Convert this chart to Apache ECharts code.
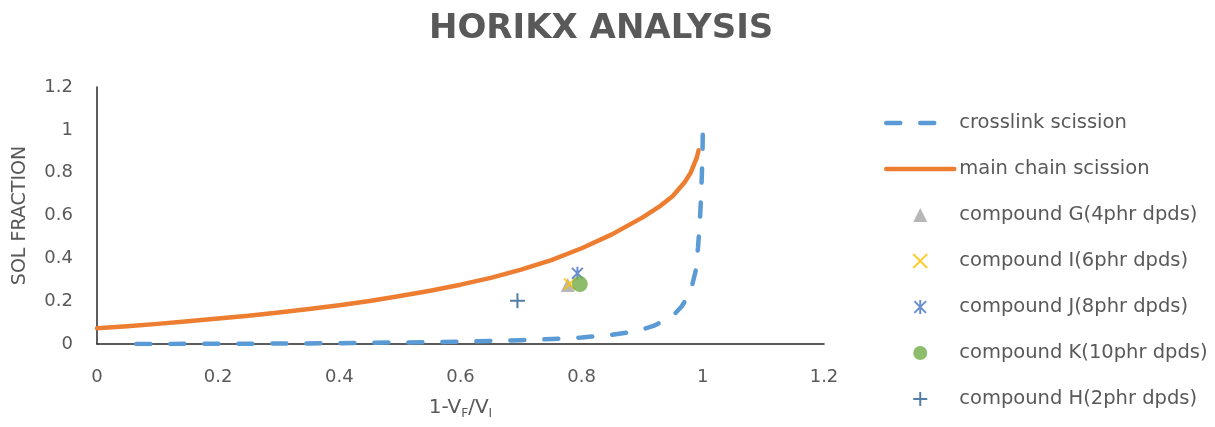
<!DOCTYPE html>
<html>
<head>
<meta charset="utf-8">
<title>Horikx Analysis</title>
<script src="https://cdn.jsdelivr.net/npm/echarts@6/dist/echarts.min.js"></script>
<style>
  html, body { margin: 0; padding: 0; background: #ffffff; }
  #chart { width: 1215px; height: 427px; }
</style>
</head>
<body>
<div id="chart"></div>
<script>
// Theoretical Horikx curves (x = 1 - Vf/Vi, y = sol fraction)
const crosslinkX = [0.065, 0.2, 0.3, 0.4, 0.5, 0.6, 0.7, 0.75, 0.8, 0.85, 0.88, 0.9, 0.92, 0.94, 0.955, 0.965, 0.975, 0.982, 0.988, 0.992, 0.995, 0.997, 0.9985, 0.9995, 1.0];
const crosslinkY = [0.0, 0.001, 0.002, 0.004, 0.007, 0.011, 0.018, 0.023, 0.03, 0.043, 0.055, 0.068, 0.086, 0.115, 0.145, 0.175, 0.22, 0.27, 0.34, 0.45, 0.57, 0.68, 0.8, 0.9, 1.0];

const mainChainX = [0, 0.05, 0.1, 0.15, 0.2, 0.25, 0.3, 0.35, 0.4, 0.45, 0.5, 0.55, 0.6, 0.65, 0.7, 0.75, 0.8, 0.85, 0.9, 0.93, 0.95, 0.97, 0.98, 0.99, 0.993];
const mainChainY = [0.073, 0.083, 0.094, 0.106, 0.119, 0.132, 0.147, 0.163, 0.181, 0.201, 0.224, 0.249, 0.277, 0.309, 0.347, 0.392, 0.447, 0.512, 0.59, 0.645, 0.69, 0.755, 0.8, 0.87, 0.905];

// Measured compounds [1 - Vf/Vi, sol fraction]
const compoundG = [[0.777, 0.276]];
const compoundI = [[0.78, 0.28]];
const compoundJ = [[0.793, 0.33]];
const compoundK = [[0.797, 0.28]];
const compoundH = [[0.694, 0.202]];

const seriesNames = [
  'crosslink scission',
  'main chain scission',
  'compound G(4phr dpds)',
  'compound I(6phr dpds)',
  'compound J(8phr dpds)',
  'compound K(10phr dpds)',
  'compound H(2phr dpds)'
];

const xTicks = { min: 0, max: 1.2, interval: 0.2 };
const yTicks = { min: 0, max: 1.2, interval: 0.2 };

const zip = (xs, ys) => xs.map((x, i) => [x, ys[i]]);

const textGray = '#595959';
const baseFont = 'DejaVu Sans';

const crosslinkStyle = { color: '#5B9BD5', width: 4.5, type: [14, 20], cap: 'round', join: 'round' };
const mainChainStyle = { color: '#ED7D31', width: 4.5, cap: 'round', join: 'round' };

// line entries show only their stroke in the legend, markers show their symbol
const legendData = [
  { name: seriesNames[0], itemStyle: { opacity: 0 }, lineStyle: crosslinkStyle },
  { name: seriesNames[1], itemStyle: { opacity: 0 }, lineStyle: mainChainStyle },
  { name: seriesNames[2] },
  { name: seriesNames[3] },
  { name: seriesNames[4] },
  { name: seriesNames[5] },
  { name: seriesNames[6] }
];

const chart = echarts.init(document.getElementById('chart'), null, { renderer: 'canvas' });

chart.setOption({
  animation: false,
  backgroundColor: '#ffffff',
  title: {
    text: 'HORIKX ANALYSIS',
    left: 424,
    top: 7,
    textStyle: {
      fontFamily: baseFont,
      fontWeight: 'bold',
      fontSize: 34,
      color: textGray
    }
  },
  grid: {
    left: 97,
    right: 391,
    top: 87,
    bottom: 83,
    containLabel: false
  },
  legend: {
    orient: 'vertical',
    left: 879,
    top: 108,
    itemWidth: 68,
    itemHeight: 14,
    itemGap: 26,
    symbolKeepAspect: true,
    data: legendData,
    textStyle: {
      fontFamily: baseFont,
      fontSize: 19.5,
      color: textGray
    }
  },
  xAxis: {
    type: 'value',
    min: xTicks.min,
    max: xTicks.max,
    interval: xTicks.interval,
    splitLine: { show: false },
    axisTick: { show: false },
    axisLine: { show: true, lineStyle: { color: '#262626', width: 1.5 } },
    axisLabel: {
      margin: 24,
      fontFamily: baseFont,
      fontSize: 18,
      color: textGray
    },
    name: '1-V{sub|F}/V{sub|I}',
    nameLocation: 'middle',
    nameGap: 52,
    nameTextStyle: {
      fontFamily: baseFont,
      fontSize: 20,
      color: textGray,
      lineHeight: 24,
      rich: {
        sub: {
          fontFamily: baseFont,
          fontSize: 12,
          color: textGray,
          lineHeight: 12,
          verticalAlign: 'bottom'
        }
      }
    }
  },
  yAxis: {
    type: 'value',
    min: yTicks.min,
    max: yTicks.max,
    interval: yTicks.interval,
    splitLine: { show: false },
    axisTick: { show: false },
    axisLine: { show: true, lineStyle: { color: '#262626', width: 1.5 } },
    axisLabel: {
      margin: 24,
      fontFamily: baseFont,
      fontSize: 18,
      color: textGray
    },
    name: 'SOL FRACTION',
    nameLocation: 'middle',
    nameGap: 67,
    nameTextStyle: {
      fontFamily: baseFont,
      fontSize: 19,
      color: textGray
    }
  },
  series: [
    {
      name: seriesNames[0],
      type: 'line',
      data: zip(crosslinkX, crosslinkY),
      symbol: 'none',
      smooth: false,
      lineStyle: crosslinkStyle,
      itemStyle: { color: '#5B9BD5' },
      z: 2
    },
    {
      name: seriesNames[1],
      type: 'line',
      data: zip(mainChainX, mainChainY),
      symbol: 'none',
      smooth: false,
      lineStyle: mainChainStyle,
      itemStyle: { color: '#ED7D31' },
      z: 2
    },
    {
      name: seriesNames[2],
      type: 'scatter',
      data: compoundG,
      symbol: 'path://M5,0L10,10L0,10Z',
      symbolSize: 14,
      symbolKeepAspect: true,
      itemStyle: { color: '#A5A5A5' },
      z: 3
    },
    {
      name: seriesNames[3],
      type: 'scatter',
      data: compoundI,
      symbol: 'path://M0,0L10,10M10,0L0,10',
      symbolSize: 11,
      symbolKeepAspect: true,
      itemStyle: { color: 'rgba(0,0,0,0)', borderColor: '#FFC000', borderWidth: 2 },
      z: 4
    },
    {
      name: seriesNames[4],
      type: 'scatter',
      data: compoundJ,
      symbol: 'path://M0,1L10,11M10,1L0,11M5,0L5,12',
      symbolSize: 13,
      symbolKeepAspect: true,
      itemStyle: { color: 'rgba(0,0,0,0)', borderColor: '#4472C4', borderWidth: 2 },
      z: 4
    },
    {
      name: seriesNames[5],
      type: 'scatter',
      data: compoundK,
      symbol: 'circle',
      symbolSize: 16,
      itemStyle: { color: '#70AD47' },
      z: 5
    },
    {
      name: seriesNames[6],
      type: 'scatter',
      data: compoundH,
      symbol: 'path://M5,0L5,10M0,5L10,5',
      symbolSize: 15,
      symbolKeepAspect: true,
      itemStyle: { color: 'rgba(0,0,0,0)', borderColor: '#255E91', borderWidth: 2 },
      z: 4
    }
  ]
});
</script>
</body>
</html>
